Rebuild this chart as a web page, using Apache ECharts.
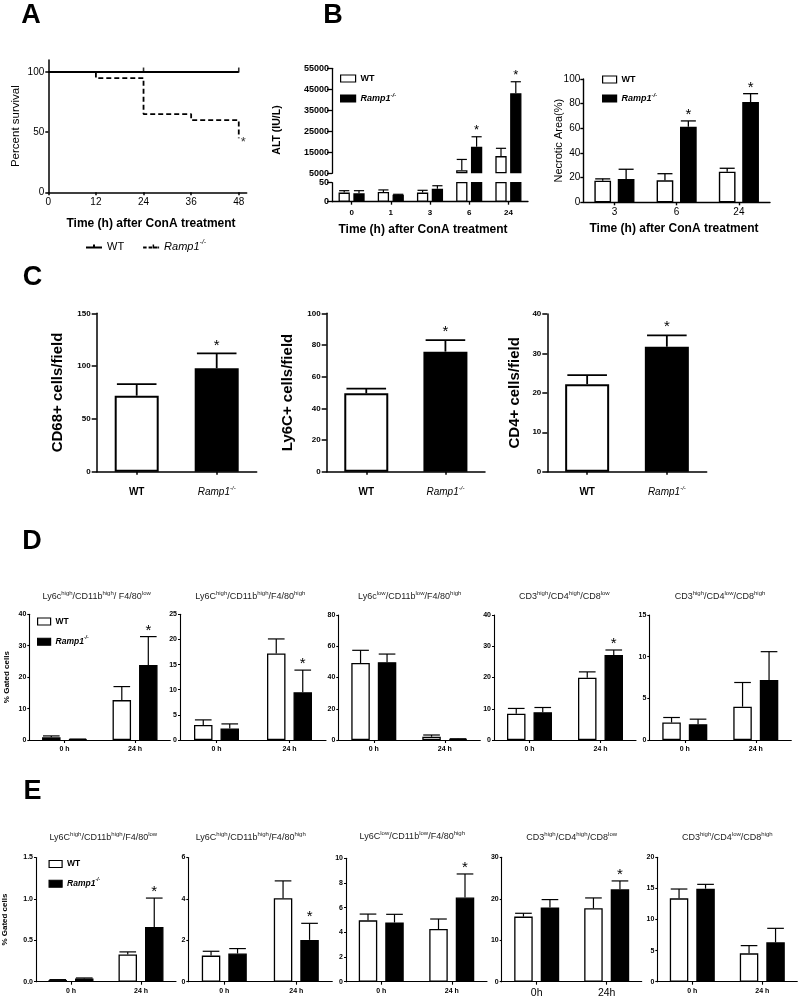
<!DOCTYPE html>
<html><head><meta charset="utf-8">
<script src="https://cdn.jsdelivr.net/npm/echarts@6/dist/echarts.min.js"></script>
<style>html,body{margin:0;padding:0;background:#fff}#c{width:800px;height:1006px}</style>
</head><body><div id="c"></div>
<script>
// ================= DATA =================
// A: survival (Kaplan-Meier)
const survTimes = [0, 12, 24, 36, 48];
const survWT = [100, 100, 100, 100, 100];
const survKO = [100, 95, 65, 60, 45];
const survCensorWT = [24, 48];
const survTicksX = [0, 12, 24, 36, 48];
const survTicksY = [0, 50, 100];

// B: ALT (broken axis)
const altCats = ['0', '1', '3', '6', '24'];
const altWT = [24, 25.5, 24, 6500, 13200];
const altWTErr = [29, 31, 30, 11600, 16900];
const altKO = [22, 18.5, 34, 17700, 43100];
const altKOErr = [29, 19.5, 42, 22400, 48600];
const altSig = [0, 0, 0, 1, 1];
const altLowMax = 50, altHighMin = 5000, altHighMax = 55000;

// B: necrotic area
const necCats = ['3', '6', '24'];
const necWT = [17.5, 17.8, 24.8];
const necWTErr = [19, 23.2, 27.6];
const necKO = [18.9, 61.3, 81.3];
const necKOErr = [26.8, 66, 88.1];
const necSig = [0, 1, 1];

// C: cells / field
const cCats = ['WT', 'Ramp1'];
const cd68 = [72, 98], cd68Err = [83, 112];
const ly6c = [49.5, 75.8], ly6cErr = [52.4, 83.1];
const cd4 = [22.2, 31.7], cd4Err = [24.5, 34.6];
const cSig = [0, 1];

// D: % gated cells
const dCats = ['0 h', '24 h'];
const d1WT = [0.85, 12.7], d1WTErr = [1.3, 17.0], d1KO = [0.2, 23.9], d1KOErr = [0.3, 32.9], d1Sig = [0, 1];
const d2WT = [3.0, 17.2], d2WTErr = [4.0, 20.1], d2KO = [2.3, 9.5], d2KOErr = [3.2, 13.9], d2Sig = [0, 1];
const d3WT = [49.3, 2.1], d3WTErr = [57.4, 3.2], d3KO = [49.8, 0.6], d3KOErr = [55.0, 0.8], d3Sig = [0, 0];
const d4WT = [8.4, 19.9], d4WTErr = [10.1, 21.8], d4KO = [8.9, 27.2], d4KOErr = [10.4, 28.8], d4Sig = [0, 1];
const d5WT = [2.1, 4.0], d5WTErr = [2.7, 6.9], d5KO = [1.9, 7.2], d5KOErr = [2.5, 10.6], d5Sig = [0, 0];

// E: % gated cells
const eCats = ['0 h', '24 h'];
const eCats4 = ['0h', '24h'];
const e1WT = [0.02, 0.33], e1WTErr = [0.025, 0.36], e1KO = [0.04, 0.66], e1KOErr = [0.045, 1.01], e1Sig = [0, 1];
const e2WT = [1.26, 4.03], e2WTErr = [1.47, 4.87], e2KO = [1.36, 2.02], e2KOErr = [1.6, 2.82], e2Sig = [0, 1];
const e3WT = [4.97, 4.27], e3WTErr = [5.48, 5.08], e3KO = [4.8, 6.82], e3KOErr = [5.46, 8.73], e3Sig = [0, 1];
const e4WT = [15.7, 17.7], e4WTErr = [16.5, 20.2], e4KO = [17.9, 22.3], e4KOErr = [19.8, 24.3], e4Sig = [0, 1];
const e5WT = [13.4, 4.56], e5WTErr = [14.9, 5.8], e5KO = [14.95, 6.33], e5KOErr = [15.65, 8.58], e5Sig = [0, 0];

// subtitles: [text, superscript]
const dTitles = [
  [['Ly6c', 'high'], ['/CD11b', 'high'], ['/ F4/80', 'low']],
  [['Ly6C', 'high'], ['/CD11b', 'high'], ['/F4/80', 'high']],
  [['Ly6c', 'low'], ['/CD11b', 'low'], ['/F4/80', 'high']],
  [['CD3', 'high'], ['/CD4', 'high'], ['/CD8', 'low']],
  [['CD3', 'high'], ['/CD4', 'low'], ['/CD8', 'high']]
];
const eTitles = [
  [['Ly6C', 'high'], ['/CD11b', 'high'], ['/F4/80', 'low']],
  [['Ly6C', 'high'], ['/CD11b', 'high'], ['/F4/80', 'high']],
  [['Ly6C', 'low'], ['/CD11b', 'low'], ['/F4/80', 'high']],
  [['CD3', 'high'], ['/CD4', 'high'], ['/CD8', 'low']],
  [['CD3', 'high'], ['/CD4', 'low'], ['/CD8', 'high']]
];

// ================= BUILD =================
const FONT = 'Arial, "Liberation Sans", Helvetica, sans-serif';
const option = {
  animation: false, backgroundColor: '#fff',
  textStyle: {fontFamily: FONT},
  grid: [], xAxis: [], yAxis: [], series: [], legend: [], graphic: []
};
function addGrid(r) {
  option.grid.push({left: r[0], top: r[1], width: r[2], height: r[3], containLabel: false, outerBoundsMode: 'none', show: false});
  return option.grid.length - 1;
}
const supRich = (fs, style, weight, bWeight) => ({
  i: {fontSize: fs, fontStyle: style || 'italic', fontWeight: weight || 'bold', fontFamily: FONT, color: '#000', lineHeight: fs + 4},
  b: {fontSize: fs, fontWeight: bWeight || weight || 'bold', fontFamily: FONT, color: '#000', lineHeight: fs + 4},
  s: {fontSize: Math.round(fs * 0.62), fontStyle: style || 'italic', fontWeight: weight || 'bold', fontFamily: FONT, color: '#000', verticalAlign: 'top', lineHeight: Math.round(fs * 0.62)}
});
const koLabel = n => n === 'Ramp1' ? '{i|Ramp1}{s|-/-}' : '{b|' + n + '}';

function barChart(c) {
  const gi = addGrid(c.rect);
  const xi = option.xAxis.length, yi = option.yAxis.length;
  const aw = c.axisW;
  option.xAxis.push({
    type: 'category', gridIndex: gi, data: c.cats, show: c.showX !== false,
    axisLine: {show: true, onZero: false, lineStyle: {color: '#000', width: aw}},
    axisTick: {show: true, alignWithLabel: true, length: 3, lineStyle: {color: '#000', width: aw}},
    axisLabel: Object.assign({show: true, interval: 0, margin: 6, color: '#000', fontFamily: FONT, fontWeight: 'bold', fontSize: 8}, c.xLabel || {}),
    splitLine: {show: false}
  });
  option.yAxis.push({
    type: 'value', gridIndex: gi, min: c.yMin || 0, max: c.yMax, interval: c.yInt,
    axisLine: {show: true, lineStyle: {color: '#000', width: aw}},
    axisTick: {show: true, length: c.yTick || 3, lineStyle: {color: '#000', width: aw}},
    axisLabel: Object.assign({show: true, margin: 4, color: '#000', fontFamily: FONT, fontWeight: 'bold', fontSize: 8}, c.yLabel || {}),
    splitLine: {show: false},
    name: c.yName || '', nameLocation: 'middle', nameGap: c.yNameGap || 20, nameRotate: 90, nameMoveOverlap: false,
    nameTextStyle: Object.assign({color: '#000', fontFamily: FONT, fontWeight: 'bold', fontSize: 10}, c.yNameStyle || {})
  });
  const dx = c.bars.length === 2 ? (c.bw + c.gap) / 2 : 0;
  const errData = [];
  c.bars.forEach((b, si) => {
    option.series.push({
      type: 'bar', name: b.name, xAxisIndex: xi, yAxisIndex: yi, silent: true, clip: true, z: 2,
      barWidth: c.bw, barGap: (c.gap / c.bw * 100) + '%',
      data: b.values.map((v, i) => v == null ? '-' : (b.colors ? {value: v, itemStyle: {color: b.colors[i]}} : v)),
      itemStyle: {color: b.color || '#fff', borderColor: '#000', borderWidth: c.border}
    });
    const side = c.bars.length === 2 ? (si === 0 ? -1 : 1) : 0;
    b.values.forEach((v, i) => {
      if (v == null || b.errs[i] == null) return;
      errData.push([i, v, b.errs[i], side * dx, b.sig ? b.sig[i] : 0]);
    });
  });
  const cap = c.bw * 0.9, ew = c.errW || 1.3;
  option.series.push({
    type: 'custom', xAxisIndex: xi, yAxisIndex: yi, silent: true, z: 3,
    encode: {x: 0, y: 1}, data: errData,
    renderItem: (params, api) => {
      const cat = api.value(0), v = api.value(1), e = api.value(2), off = api.value(3), s = api.value(4);
      const p0 = api.coord([cat, v]), p1 = api.coord([cat, e]);
      const x = p0[0] + off;
      const ch = [];
      if (e > v) {
        ch.push({type: 'line', shape: {x1: x, y1: p0[1], x2: x, y2: p1[1]}, style: {stroke: '#000', lineWidth: ew}});
        ch.push({type: 'line', shape: {x1: x - cap / 2, y1: p1[1], x2: x + cap / 2, y2: p1[1]}, style: {stroke: '#000', lineWidth: ew}});
      }
      if (s) ch.push({type: 'text', x: x, y: p1[1] - (c.starGap || 7), style: {text: '*', align: 'center', verticalAlign: 'middle', font: (c.starSize || 14) + 'px ' + FONT, fill: '#000'}});
      return {type: 'group', children: ch};
    }
  });
}
function barLegend(left, top, iw, ih, gap, fs) {
  option.legend.push({
    data: ['WT', 'Ramp1'], orient: 'vertical', left: left, top: top, itemWidth: iw, itemHeight: ih, itemGap: gap,
    icon: 'rect', selectedMode: false, padding: 0,
    itemStyle: {borderColor: '#000', borderWidth: 1.2},
    textStyle: {fontFamily: FONT, fontSize: fs, fontWeight: 'bold', color: '#000', rich: supRich(fs)},
    formatter: koLabel
  });
}
function txt(x, y, text, font, extra) {
  option.graphic.push(Object.assign({type: 'text', x: x, y: y, silent: true,
    style: {text: text, font: font, fill: '#000', align: 'center', verticalAlign: 'middle'}}, extra || {}));
}
function richTitle(parts) {
  return parts.map(p => '{n|' + p[0] + '}' + (p[1] ? '{s|' + p[1] + '}' : '')).join('');
}
const subRich = {
  n: {fontSize: 9, fontFamily: FONT, color: '#222', lineHeight: 13},
  s: {fontSize: 6, fontFamily: FONT, color: '#222', verticalAlign: 'top', lineHeight: 6}
};

// ---------- A ----------
const gA = addGrid([48.3, 60, 198.4, 132.3]);
const xA = option.xAxis.length, yA = option.yAxis.length;
option.xAxis.push({
  type: 'value', gridIndex: gA, min: 0, max: 50, interval: 12,
  axisLine: {show: true, onZero: false, lineStyle: {color: '#000', width: 1.5}},
  axisTick: {show: true, length: 3, customValues: survTicksX, lineStyle: {color: '#000', width: 1.5}},
  axisLabel: {customValues: survTicksX, color: '#000', fontSize: 10, fontFamily: FONT, margin: 5},
  splitLine: {show: false}
});
option.yAxis.push({
  type: 'value', gridIndex: gA, min: 0, max: 110, interval: 50,
  axisLine: {show: true, onZero: false, lineStyle: {color: '#000', width: 1.5}},
  axisTick: {show: true, length: 3, customValues: survTicksY, lineStyle: {color: '#000', width: 1.5}},
  axisLabel: {customValues: survTicksY, color: '#000', fontSize: 10, fontFamily: FONT, margin: 4},
  splitLine: {show: false},
  name: 'Percent survival', nameLocation: 'middle', nameGap: 26, nameRotate: 90, nameMoveOverlap: false,
  nameTextStyle: {color: '#000', fontSize: 11.5, fontFamily: FONT}
});
option.series.push({
  type: 'line', name: 'A_KO', xAxisIndex: xA, yAxisIndex: yA, step: 'end', symbol: 'none', silent: true, z: 2, color: '#000',
  data: survTimes.map((t, i) => [t, survKO[i]]), itemStyle: {color: '#000'}, lineStyle: {color: '#000', width: 1.8, type: [5, 3]}
});
option.series.push({
  type: 'line', name: 'A_WT', xAxisIndex: xA, yAxisIndex: yA, step: 'end', symbol: 'none', silent: true, z: 3, color: '#000',
  data: survTimes.map((t, i) => [t, survWT[i]]), itemStyle: {color: '#000'}, lineStyle: {color: '#000', width: 2}
});
option.series.push({
  type: 'scatter', xAxisIndex: xA, yAxisIndex: yA, silent: true, z: 4, symbol: 'rect', symbolSize: [1.6, 5], symbolOffset: [0, -2],
  itemStyle: {color: '#000'}, data: survCensorWT.map(t => [t, survWT[survTimes.indexOf(t)]])
});
option.series.push({
  type: 'scatter', xAxisIndex: xA, yAxisIndex: yA, silent: true, symbolSize: 0,
  data: [[survTimes[survTimes.length - 1], survKO[survKO.length - 1]]],
  label: {show: true, formatter: '*', position: 'right', distance: 2, offset: [0, 4], fontSize: 13, color: '#000'}
});
const iconSolid = 'path://M0,3h16v2h-16z M7,1h2v4h-2z';
const iconDash = 'path://M0,3h3.5v2h-3.5z M5.5,3h3.5v2h-3.5z M11,3h3.5v2h-3.5z M9.5,1h1.5v4h-1.5z M15,3h1v2h-1z';
option.legend.push({
  data: [{name: 'A_WT', icon: iconSolid}, {name: 'A_KO', icon: iconDash}],
  left: 86, top: 239, itemWidth: 16, itemHeight: 5, itemGap: 19, selectedMode: false, padding: 0,
  itemStyle: {color: '#000', borderWidth: 0},
  textStyle: {fontFamily: FONT, fontSize: 11, color: '#000', rich: supRich(11, 'italic', 'normal')},
  formatter: n => n === 'A_KO' ? '{i|Ramp1}{s|-/-}' : '{b|WT}'
});

// ---------- B left (ALT, broken axis) ----------
barChart({
  rect: [332, 68.3, 196, 105], cats: altCats, showX: false, yMin: 0, yMax: altHighMax - altHighMin, yInt: 10000, yTick: 5,
  yLabel: {fontSize: 9, margin: 3, formatter: v => String(v + altHighMin)},
  axisW: 1.3, bw: 11.3, gap: 3.5, border: 1.3, errW: 1.2, starSize: 13, starGap: 6,
  bars: [
    {name: 'WT', color: '#fff', values: altWT.map(v => v >= altHighMin ? v - altHighMin : null), errs: altWTErr.map(v => v - altHighMin)},
    {name: 'Ramp1', color: '#000', values: altKO.map(v => v >= altHighMin ? v - altHighMin : null), errs: altKOErr.map(v => v - altHighMin), sig: altSig}
  ]
});
barChart({
  rect: [332, 182.7, 196, 19], cats: altCats, yMin: 0, yMax: altLowMax, yInt: altLowMax, yTick: 5,
  yLabel: {fontSize: 9, margin: 3},
  xLabel: {fontSize: 8, margin: 7},
  axisW: 1.3, bw: 11.3, gap: 3.5, border: 1.3, errW: 1.2,
  bars: [
    {name: 'WT', color: '#fff', values: altWT, errs: altWTErr.map((e, i) => altWT[i] <= altLowMax ? e : null)},
    {name: 'Ramp1', color: '#000', values: altKO, errs: altKOErr.map((e, i) => altKO[i] <= altLowMax ? e : null)}
  ]
});
barLegend(340, 74, 15, 7, 9, 9);

// ---------- B right (necrotic) ----------
barChart({
  rect: [583.3, 79, 186.7, 123.3], cats: necCats, yMin: 0, yMax: 100, yInt: 20, yTick: 3,
  yLabel: {fontSize: 10, fontWeight: 'normal', margin: 3},
  xLabel: {fontSize: 10, fontWeight: 'normal', margin: 5},
  yName: 'Necrotic Area(%)', yNameGap: 19, yNameStyle: {fontSize: 11, fontWeight: 'normal'},
  axisW: 1.4, bw: 16.7, gap: 6.7, border: 1.4, errW: 1.3, starSize: 15, starGap: 6,
  bars: [
    {name: 'WT', color: '#fff', values: necWT, errs: necWTErr},
    {name: 'Ramp1', color: '#000', values: necKO, errs: necKOErr, sig: necSig}
  ]
});
barLegend(602, 75, 14, 7, 8, 9);

// ---------- C ----------
const cXLabel = {fontSize: 10, margin: 14, formatter: koLabel, rich: supRich(10, 'italic', 'normal', 'bold')};
const cBar = (vals, errs) => [{name: 'cells', colors: ['#fff', '#000'], values: vals, errs: errs, sig: cSig}];
barChart({
  rect: [96.7, 313.3, 160, 158.4], cats: cCats, yMin: 0, yMax: 150, yInt: 50, yTick: 5,
  yLabel: {fontSize: 8, margin: 6}, xLabel: cXLabel,
  yName: 'CD68+ cells/field', yNameGap: 31, yNameStyle: {fontSize: 15},
  axisW: 1.5, bw: 44, gap: 0, border: 2, errW: 1.8, starSize: 15, starGap: 8,
  bars: cBar(cd68, cd68Err)
});
barChart({
  rect: [326.7, 313.3, 158.3, 158.4], cats: cCats, yMin: 0, yMax: 100, yInt: 20, yTick: 5,
  yLabel: {fontSize: 8, margin: 6}, xLabel: cXLabel,
  yName: 'Ly6C+ cells/field', yNameGap: 31, yNameStyle: {fontSize: 15},
  axisW: 1.5, bw: 44, gap: 0, border: 2, errW: 1.8, starSize: 15, starGap: 8,
  bars: cBar(ly6c, ly6cErr)
});
barChart({
  rect: [547.3, 314, 159.4, 157.7], cats: cCats, yMin: 0, yMax: 40, yInt: 10, yTick: 5,
  yLabel: {fontSize: 8, margin: 6}, xLabel: cXLabel,
  yName: 'CD4+ cells/field', yNameGap: 25, yNameStyle: {fontSize: 15},
  axisW: 1.5, bw: 44, gap: 0, border: 2, errW: 1.8, starSize: 15, starGap: 8,
  bars: cBar(cd4, cd4Err)
});

// ---------- D ----------
const dRects = [[29.3, 614.3, 141, 125.7], [180, 614.3, 146, 125.7], [338.3, 615, 142, 125], [494, 615, 142, 125], [649.3, 615, 142, 125]];
const dAxes = [[40, 10], [25, 5], [80, 20], [40, 10], [15, 5]];
const dSets = [
  [d1WT, d1WTErr, d1KO, d1KOErr, d1Sig], [d2WT, d2WTErr, d2KO, d2KOErr, d2Sig], [d3WT, d3WTErr, d3KO, d3KOErr, d3Sig],
  [d4WT, d4WTErr, d4KO, d4KOErr, d4Sig], [d5WT, d5WTErr, d5KO, d5KOErr, d5Sig]
];
dSets.forEach((s, k) => {
  barChart({
    rect: dRects[k], cats: dCats, yMin: 0, yMax: dAxes[k][0], yInt: dAxes[k][1], yTick: 2,
    yLabel: {fontSize: 7, margin: 3}, xLabel: {fontSize: 7, margin: 6},
    yName: k === 0 ? '% Gated cells' : '', yNameGap: 19, yNameStyle: {fontSize: 8},
    axisW: 1.1, bw: 18.5, gap: 8, border: 1.3, errW: 1.2, starSize: 15, starGap: 6,
    bars: [
      {name: 'WT', color: '#fff', values: s[0], errs: s[1]},
      {name: 'Ramp1', color: '#000', values: s[2], errs: s[3], sig: s[4]}
    ]
  });
});
barLegend(37, 617, 13, 7, 9.5, 8.5);

// ---------- E ----------
const eRects = [[36, 857.5, 140, 124.2], [188.3, 857.5, 144, 124.2], [346, 858.3, 141, 123.4], [501.7, 857.3, 140, 124.4], [657.3, 857.3, 140, 124.4]];
const eAxes = [[1.5, 0.5], [6, 2], [10, 2], [30, 10], [20, 5]];
const eSets = [
  [e1WT, e1WTErr, e1KO, e1KOErr, e1Sig], [e2WT, e2WTErr, e2KO, e2KOErr, e2Sig], [e3WT, e3WTErr, e3KO, e3KOErr, e3Sig],
  [e4WT, e4WTErr, e4KO, e4KOErr, e4Sig], [e5WT, e5WTErr, e5KO, e5KOErr, e5Sig]
];
eSets.forEach((s, k) => {
  barChart({
    rect: eRects[k], cats: k === 3 ? eCats4 : eCats, yMin: 0, yMax: eAxes[k][0], yInt: eAxes[k][1], yTick: 2,
    yLabel: {fontSize: 7, margin: 3, formatter: k === 0 ? (v => v.toFixed(1)) : undefined},
    xLabel: k === 3 ? {fontSize: 10.5, fontWeight: 'normal', margin: 6} : {fontSize: 7, margin: 6},
    yName: k === 0 ? '% Gated cells' : '', yNameGap: 27, yNameStyle: {fontSize: 8},
    axisW: 1.1, bw: 18.5, gap: 8, border: 1.3, errW: 1.2, starSize: 15, starGap: 6,
    bars: [
      {name: 'WT', color: '#fff', values: s[0], errs: s[1]},
      {name: 'Ramp1', color: '#000', values: s[2], errs: s[3], sig: s[4]}
    ]
  });
});
barLegend(48.5, 859.5, 13, 7, 9, 8.5);

// ---------- texts ----------
const big = 'bold 27px ' + FONT;
txt(31, 16, 'A', big); txt(333, 16, 'B', big); txt(32.5, 278, 'C', big); txt(32, 542, 'D', big); txt(32.5, 792, 'E', big);
const tFont = 'bold 12px ' + FONT;
txt(151, 223.3, 'Time (h) after ConA treatment', tFont);
txt(423, 230, 'Time (h) after ConA treatment', tFont);
txt(674, 228.5, 'Time (h) after ConA treatment', tFont);
txt(276.7, 130, 'ALT (IU/L)', 'bold 10.5px ' + FONT, {rotation: Math.PI / 2});
const dTitleX = [96.7, 250.3, 409.7, 564.3, 720];
dTitles.forEach((p, k) => option.graphic.push({type: 'text', x: dTitleX[k], y: 596.7, silent: true,
  style: {text: richTitle(p), rich: subRich, align: 'center', verticalAlign: 'middle', fill: '#222'}}));
const eTitleX = [103.3, 250.7, 412.3, 571.7, 727.3];
const eTitleY = [838, 838, 836.5, 837.5, 837.5];
eTitles.forEach((p, k) => option.graphic.push({type: 'text', x: eTitleX[k], y: eTitleY[k], silent: true,
  style: {text: richTitle(p), rich: subRich, align: 'center', verticalAlign: 'middle', fill: '#222'}}));

const chart = echarts.init(document.getElementById('c'), null, {renderer: 'canvas', width: 800, height: 1006});
chart.setOption(option);
</script>
</body></html>
